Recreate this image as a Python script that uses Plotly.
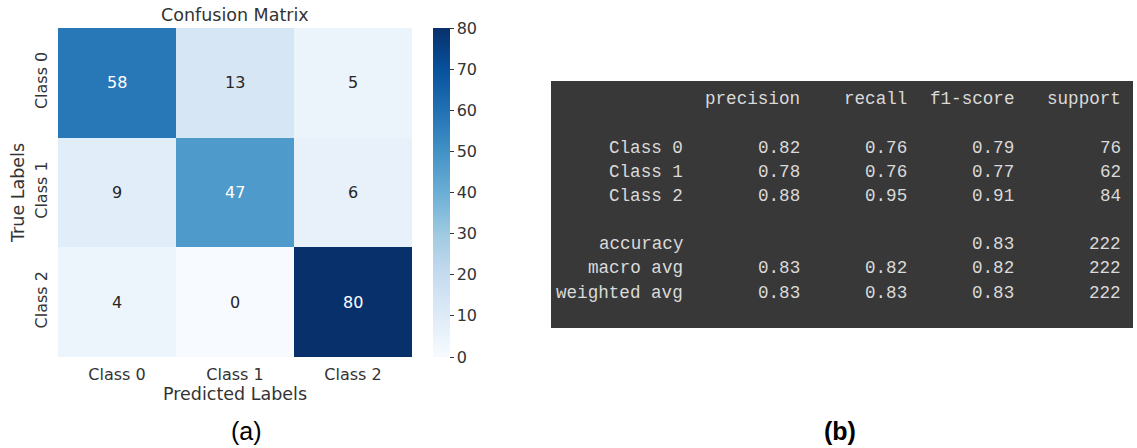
import plotly.graph_objects as go

# Confusion matrix counts (rows = true class, columns = predicted class)
classes = ["Class 0", "Class 1", "Class 2"]
conf_matrix = [
    [58, 13, 5],
    [9, 47, 6],
    [4, 0, 80],
]

# Classification report
report_header = ["precision", "recall", "f1-score", "support"]
report_rows = ["Class 0", "Class 1", "Class 2", "accuracy", "macro avg", "weighted avg"]
precision = ["0.82", "0.78", "0.88", "", "0.83", "0.83"]
recall = ["0.76", "0.76", "0.95", "", "0.82", "0.83"]
f1_score = ["0.79", "0.77", "0.91", "0.83", "0.82", "0.83"]
support = ["76", "62", "84", "222", "222", "222"]

W, H = 1137, 448
TXT = "#333333"
SANS = "DejaVu Sans"
MONO = "Liberation Mono"


def px(x):
    return x / W


def py(y):
    return (H - y) / H


fig = go.Figure()

fig.add_trace(go.Heatmap(
    z=conf_matrix,
    x=classes,
    y=classes,
    zmin=0,
    zmax=80,
    colorscale="Blues",
    hoverinfo="skip",
    colorbar=dict(
        x=px(433), xanchor="left", xpad=0,
        y=(py(28) + py(357)) / 2, yanchor="middle", ypad=0,
        len=py(28) - py(357), lenmode="fraction",
        thickness=17, thicknessmode="pixels",
        outlinewidth=0,
        tickvals=[0, 10, 20, 30, 40, 50, 60, 70, 80],
        ticks="outside", ticklen=4, tickwidth=1, tickcolor=TXT,
        tickfont=dict(family=SANS, size=16, color=TXT),
    ),
))

annotations = []

# Cell counts, white on dark cells
for i, row in enumerate(conf_matrix):
    for j, v in enumerate(row):
        annotations.append(dict(
            x=classes[j], y=classes[i], xref="x", yref="y",
            text=str(v), showarrow=False,
            font=dict(family=SANS, size=16,
                      color="white" if v > 40 else "#262626"),
        ))


def label(x, y, text, size, family=SANS, color=TXT, angle=0):
    return dict(x=px(x), y=py(y), xref="paper", yref="paper",
                xanchor="center", yanchor="middle", text=text,
                showarrow=False, textangle=angle,
                font=dict(family=family, size=size, color=color))


# Heatmap titles and panel captions
annotations += [
    label(235, 15, "Confusion Matrix", 17.5),
    label(235, 394, "Predicted Labels", 17.5),
    label(18, 193, "True Labels", 17.5, angle=-90),
    label(246, 431, "(a)", 25, family="Liberation Sans", color="black"),
    label(840, 431, "<b>(b)</b>", 25, family="Liberation Sans", color="black"),
]

# Classification report text block
label_right = 685
col_right = [802, 909, 1016, 1123]
header_y = 99
row_y = [148, 172, 196, 244, 268, 293]
rep_font = dict(family=MONO, size=17.6, color="#dadada")

for name, xr in zip(report_header, col_right):
    annotations.append(dict(
        x=px(xr), y=py(header_y), xref="paper", yref="paper",
        xanchor="right", yanchor="middle", text=name, showarrow=False,
        font=rep_font))

columns = [precision, recall, f1_score, support]
for r, name in enumerate(report_rows):
    annotations.append(dict(
        x=px(label_right), y=py(row_y[r]), xref="paper", yref="paper",
        xanchor="right", yanchor="middle", text=name, showarrow=False,
        font=rep_font))
    for col, xr in zip(columns, col_right):
        if col[r]:
            annotations.append(dict(
                x=px(xr), y=py(row_y[r]), xref="paper", yref="paper",
                xanchor="right", yanchor="middle", text=col[r],
                showarrow=False, font=rep_font))

fig.update_layout(
    width=W, height=H,
    margin=dict(l=0, r=0, t=0, b=0, autoexpand=False),
    paper_bgcolor="white",
    plot_bgcolor="white",
    annotations=annotations,
    shapes=[dict(
        type="rect", xref="paper", yref="paper",
        x0=px(551), x1=px(1133), y0=py(328), y1=py(81),
        fillcolor="#383838", line=dict(width=0), layer="below",
    )],
    xaxis=dict(
        domain=[px(58), px(412)],
        automargin=False,
        showgrid=False, zeroline=False, showline=False,
        ticks="outside", ticklen=3, tickcolor="rgba(0,0,0,0)",
        tickfont=dict(family=SANS, size=16, color=TXT),
    ),
    yaxis=dict(
        domain=[py(357), py(28)],
        autorange="reversed",
        automargin=False,
        showgrid=False, zeroline=False, showline=False,
        ticks="outside", ticklen=4, tickcolor="rgba(0,0,0,0)",
        tickangle=-90,
        tickfont=dict(family=SANS, size=16, color=TXT),
    ),
)

fig.write_html("out.html")
